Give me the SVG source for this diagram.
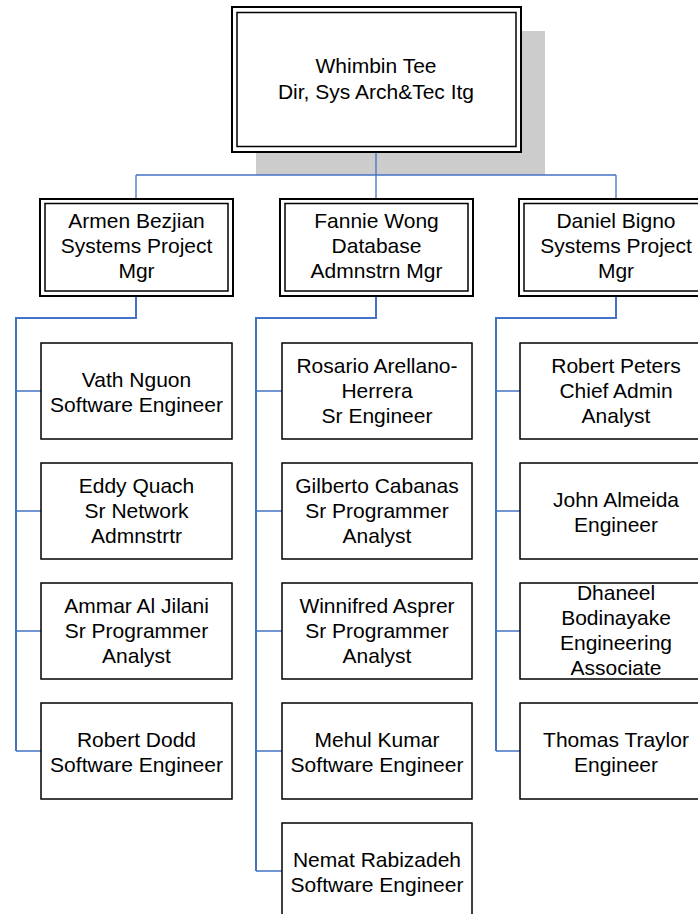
<svg xmlns="http://www.w3.org/2000/svg" width="698" height="914" viewBox="0 0 698 914">
<style>
  text { font-family: "Liberation Sans", Arial, sans-serif; font-size: 21px; fill: #000; text-anchor: middle; }
  .box { fill: #fff; stroke: #000; stroke-width: 1.5; }
  .outer { fill: #fff; stroke: #000; stroke-width: 2; }
  .inner { fill: none; stroke: #000; stroke-width: 1.5; }
  .c { fill: none; stroke: #4472C4; stroke-width: 1.3; }
  .trunk { fill: none; stroke: #4472C4; stroke-width: 2; }
</style>
<rect x="256" y="31" width="289" height="144" fill="#cccccc"/>
<g id="connectors">
  <path class="c" d="M376 152 V199 M136 175 H616 M136 175 V199 M616 175 V199"/>
  <path class="trunk" d="M136 296 V318 H16 V751"/>
  <path class="trunk" d="M376 296 V318 H256 V871"/>
  <path class="trunk" d="M616 296 V318 H496 V751"/>
  <path class="c" d="M16 391 H41 M16 511 H41 M16 631 H41 M16 751 H41"/>
  <path class="c" d="M256 391 H282 M256 511 H282 M256 631 H282 M256 751 H282 M256 871 H282"/>
  <path class="c" d="M496 391 H520 M496 511 H520 M496 631 H520 M496 751 H520"/>
</g>
<g id="whimbin">
  <rect class="outer" x="232" y="7" width="289" height="145"/>
  <rect class="inner" x="237" y="12.5" width="279" height="134"/>
  <text x="376" y="73">Whimbin Tee</text>
  <text x="376" y="99">Dir, Sys Arch&amp;Tec Itg</text>
</g>
<g id="armen">
  <rect class="outer" x="40" y="199" width="193" height="97"/>
  <rect class="inner" x="45" y="203.5" width="183" height="87.5"/>
  <text x="136.5" y="228.3">Armen Bezjian</text>
  <text x="136.5" y="253.3">Systems Project</text>
  <text x="136.5" y="278.3">Mgr</text>
</g>
<g id="fannie">
  <rect class="outer" x="280" y="199" width="193" height="97"/>
  <rect class="inner" x="285" y="203.5" width="183" height="87.5"/>
  <text x="376.5" y="228.3">Fannie Wong</text>
  <text x="376.5" y="253.3">Database</text>
  <text x="376.5" y="278.3">Admnstrn Mgr</text>
</g>
<g id="daniel">
  <rect class="outer" x="519" y="199" width="193" height="97"/>
  <rect class="inner" x="524" y="203.5" width="183" height="87.5"/>
  <text x="616" y="228.3">Daniel Bigno</text>
  <text x="616" y="253.3">Systems Project</text>
  <text x="616" y="278.3">Mgr</text>
</g>
<g id="vath">
  <rect class="box" x="41" y="343" width="191" height="96"/>
  <text x="136.5" y="386.7">Vath Nguon</text>
  <text x="136.5" y="411.7">Software Engineer</text>
</g>
<g id="eddy">
  <rect class="box" x="41" y="463" width="191" height="96"/>
  <text x="136.5" y="492.7">Eddy Quach</text>
  <text x="136.5" y="517.7">Sr Network</text>
  <text x="136.5" y="542.7">Admnstrtr</text>
</g>
<g id="ammar">
  <rect class="box" x="41" y="583" width="191" height="96"/>
  <text x="136.5" y="612.7">Ammar Al Jilani</text>
  <text x="136.5" y="637.7">Sr Programmer</text>
  <text x="136.5" y="662.7">Analyst</text>
</g>
<g id="dodd">
  <rect class="box" x="41" y="703" width="191" height="96"/>
  <text x="136.5" y="746.7">Robert Dodd</text>
  <text x="136.5" y="771.7">Software Engineer</text>
</g>
<g id="rosario">
  <rect class="box" x="282" y="343" width="190" height="96"/>
  <text x="377" y="372.7">Rosario Arellano-</text>
  <text x="377" y="397.7">Herrera</text>
  <text x="377" y="422.7">Sr Engineer</text>
</g>
<g id="gilberto">
  <rect class="box" x="282" y="463" width="190" height="96"/>
  <text x="377" y="492.7">Gilberto Cabanas</text>
  <text x="377" y="517.7">Sr Programmer</text>
  <text x="377" y="542.7">Analyst</text>
</g>
<g id="winnifred">
  <rect class="box" x="282" y="583" width="190" height="96"/>
  <text x="377" y="612.7">Winnifred Asprer</text>
  <text x="377" y="637.7">Sr Programmer</text>
  <text x="377" y="662.7">Analyst</text>
</g>
<g id="mehul">
  <rect class="box" x="282" y="703" width="190" height="96"/>
  <text x="377" y="746.7">Mehul Kumar</text>
  <text x="377" y="771.7">Software Engineer</text>
</g>
<g id="nemat">
  <rect class="box" x="282" y="823" width="190" height="96"/>
  <text x="377" y="866.7">Nemat Rabizadeh</text>
  <text x="377" y="891.7">Software Engineer</text>
</g>
<g id="peters">
  <rect class="box" x="520" y="343" width="191" height="96"/>
  <text x="616" y="372.7">Robert Peters</text>
  <text x="616" y="397.7">Chief Admin</text>
  <text x="616" y="422.7">Analyst</text>
</g>
<g id="almeida">
  <rect class="box" x="520" y="463" width="191" height="96"/>
  <text x="616" y="506.7">John Almeida</text>
  <text x="616" y="531.7">Engineer</text>
</g>
<g id="dhaneel">
  <rect class="box" x="520" y="583" width="191" height="96"/>
  <text x="616" y="600">Dhaneel</text>
  <text x="616" y="625">Bodinayake</text>
  <text x="616" y="650">Engineering</text>
  <text x="616" y="675">Associate</text>
</g>
<g id="traylor">
  <rect class="box" x="520" y="703" width="191" height="96"/>
  <text x="616" y="746.7">Thomas Traylor</text>
  <text x="616" y="771.7">Engineer</text>
</g>
</svg>
